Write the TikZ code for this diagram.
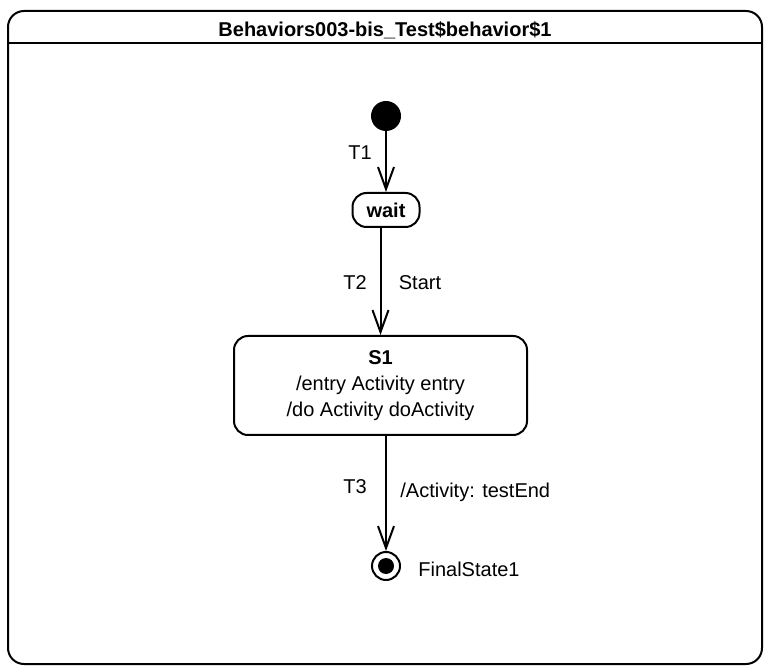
\documentclass[tikz,border=0pt]{standalone}
\usepackage{fontspec}
\setmainfont{Liberation Sans}
\usetikzlibrary{arrows.meta}

\begin{document}
\begin{tikzpicture}[x=0.5pt,y=-0.5pt,font=\fontsize{10}{13}\selectfont,
  state/.style={draw,line width=1pt,rounded corners=7pt,align=center},
  trans/.style={line width=1pt,-{Straight Barb[length=11pt,width=8pt,line width=1pt]}},
  lbl/.style={anchor=base,inner sep=0pt}]
\useasboundingbox (0,0) rectangle (769,672);
\draw [line width=1pt,rounded corners=8pt] (8,11) rectangle (762,664);
\draw [line width=1pt] (8,43) -- (762,43);
\node[lbl,font=\fontsize{10}{13}\selectfont\bfseries] (title) at (385,37) {Behaviors003-bis\_Test\$behavior\$1};

\node[circle,fill,inner sep=0pt,minimum size=15pt] (init) at (386,116) {};
\node[state,minimum width=33.5pt,minimum height=17pt] (wait) at (386,210) {\textbf{wait}};
\node[state,minimum width=146.5pt,minimum height=49.5pt] (S1) at (380.5,385.5)
  {\textbf{S1}\\/entry Activity entry\\/do Activity doActivity};
\node[circle,draw,line width=1pt,minimum size=14pt,inner sep=0pt] (final) at (386,566) {};
\fill (final) circle (4pt);
\node[lbl,anchor=base west] (finalname) at (418,576) {FinalState1};

\draw [trans] (init) -- (wait);
\draw [trans] (wait.south -| S1) -- (S1);
\draw [trans] (S1.south -| final) -- (final);

\node[lbl] (T1) at (360,160) {T1};
\node[lbl] (T2) at (355,290) {T2};
\node[lbl] (start) at (420,290) {Start};
\node[lbl] (T3) at (355,493) {T3};
\node[lbl,anchor=base west] (effect) at (400,497) {/Activity: testEnd};
\end{tikzpicture}
\end{document}
